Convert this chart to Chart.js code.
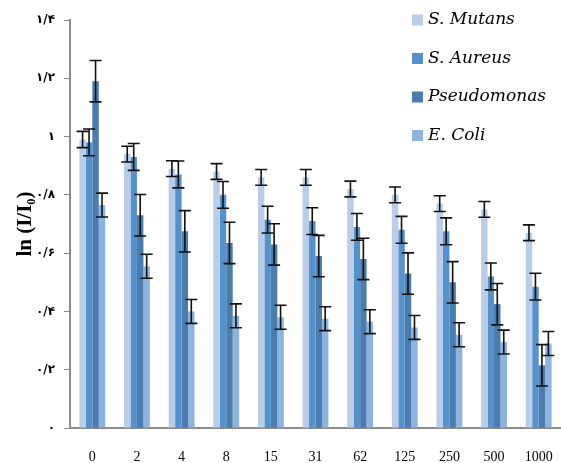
<!DOCTYPE html>
<html>
<head>
<meta charset="utf-8">
<script src="https://cdn.jsdelivr.net/npm/chart.js@4"></script>
<style>
  body { margin: 0; background: #fff; }
  #wrap { width: 561px; height: 463px; }
</style>
</head>
<body>
<div id="wrap"><canvas id="barChart"></canvas></div>
<script>
const categories = ["0", "2", "4", "8", "15", "31", "62", "125", "250", "500", "1000"];
const yTickLabels = ["۰", "۰/۲", "۰/۴", "۰/۶", "۰/۸", "۱", "۱/۲", "۱/۴"];

const mutans = [0.99, 0.94, 0.89, 0.88, 0.86, 0.86, 0.82, 0.80, 0.77, 0.75, 0.67];
const mutansErr = [0.028, 0.027, 0.027, 0.027, 0.027, 0.027, 0.027, 0.027, 0.027, 0.027, 0.027];
const aureus = [0.98, 0.93, 0.87, 0.80, 0.715, 0.71, 0.69, 0.68, 0.675, 0.52, 0.485];
const aureusErr = [0.046, 0.046, 0.046, 0.046, 0.046, 0.046, 0.046, 0.046, 0.046, 0.046, 0.046];
const pseudo = [1.19, 0.73, 0.675, 0.635, 0.63, 0.59, 0.58, 0.53, 0.50, 0.425, 0.215];
const pseudoErr = [0.071, 0.071, 0.071, 0.071, 0.071, 0.071, 0.071, 0.071, 0.071, 0.071, 0.071];
const coli = [0.765, 0.555, 0.40, 0.385, 0.38, 0.375, 0.365, 0.345, 0.32, 0.295, 0.29];
const coliErr = [0.041, 0.041, 0.041, 0.041, 0.041, 0.041, 0.041, 0.041, 0.041, 0.041, 0.041];

// error bars drawn through the y scale
const errorBars = {
  id: "errorBars",
  afterDatasetsDraw(chart) {
    const c = chart.ctx;
    const y = chart.scales.y;
    c.save();
    c.strokeStyle = "#111";
    c.lineWidth = 1.6;
    chart.data.datasets.forEach((ds, i) => {
      const meta = chart.getDatasetMeta(i);
      meta.data.forEach((bar, j) => {
        const v = ds.data[j], e = ds.err[j];
        const top = y.getPixelForValue(v + e);
        const bot = y.getPixelForValue(v - e);
        const x = bar.x;
        c.beginPath();
        c.moveTo(x, top); c.lineTo(x, bot);
        c.moveTo(x - 6, top); c.lineTo(x + 6, top);
        c.moveTo(x - 6, bot); c.lineTo(x + 6, bot);
        c.stroke();
      });
    });
    c.restore();
  }
};

// legend on the top right, inside the plot
const sideLegend = {
  id: "sideLegend",
  afterDraw(chart) {
    const c = chart.ctx;
    c.save();
    c.font = "italic 17px 'DejaVu Serif'";
    c.textBaseline = "middle";
    chart.data.datasets.forEach((ds, i) => {
      const cy = 20 + i * 38.5;
      c.fillStyle = ds.backgroundColor;
      c.fillRect(412, cy - 5.5, 11, 11);
      c.fillStyle = "#000";
      c.fillText(ds.label, 428, cy);
    });
    c.restore();
  }
};

const ctx = document.getElementById("barChart");

new Chart(ctx, {
  type: "bar",
  data: {
    labels: categories,
    datasets: [
      { label: "S. Mutans", data: mutans, err: mutansErr, backgroundColor: "#b9cde9" },
      { label: "S. Aureus", data: aureus, err: aureusErr, backgroundColor: "#5592cb" },
      { label: "Pseudomonas", data: pseudo, err: pseudoErr, backgroundColor: "#4a7cae" },
      { label: "E. Coli", data: coli, err: coliErr, backgroundColor: "#8cb4e0" }
    ]
  },
  options: {
    responsive: true,
    maintainAspectRatio: false,
    animation: false,
    layout: { padding: { top: 20, right: 0, left: 0, bottom: 0 } },
    datasets: {
      bar: { categoryPercentage: 0.58, barPercentage: 1.0 }
    },
    plugins: {
      legend: { display: false },
      tooltip: { enabled: false }
    },
    scales: {
      x: {
        grid: { display: false },
        border: { color: "#8c8c8c", width: 2 },
        ticks: {
          color: "#000",
          padding: 13,
          font: { family: "'Liberation Serif'", size: 14 }
        },
        afterFit(s) {
          s.height = 35;
          s.paddingLeft = 0;
          s.paddingRight = 0;
        }
      },
      y: {
        min: 0,
        max: 1.4,
        grid: { drawOnChartArea: false, tickLength: 6, color: "#8c8c8c", lineWidth: 1 },
        border: { color: "#8c8c8c", width: 2 },
        ticks: {
          stepSize: 0.2,
          padding: 9,
          color: "#000",
          font: { family: "'DejaVu Sans'", size: 12, weight: "bold" },
          callback: (v, i) => yTickLabels[i]
        },
        title: {
          display: true,
          text: "ln (I/I₀)",
          color: "#000",
          font: { family: "'Liberation Serif'", size: 21, weight: "bold" },
          padding: { top: 13, bottom: 0 }
        },
        afterFit(s) { s.width = 70; }
      }
    }
  },
  plugins: [errorBars, sideLegend]
});
</script>
</body>
</html>
